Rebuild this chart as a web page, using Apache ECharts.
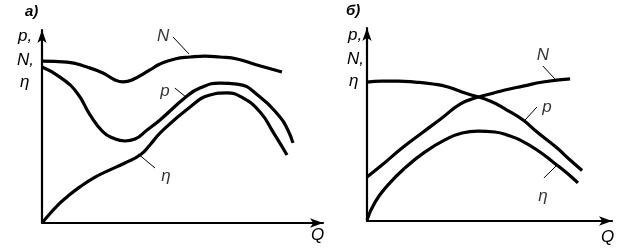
<!DOCTYPE html>
<html>
<head>
<meta charset="utf-8">
<script src="https://cdn.jsdelivr.net/npm/echarts@6/dist/echarts.min.js"></script>
<style>html,body{margin:0;padding:0;background:#fff}#c{width:630px;height:250px}</style>
</head>
<body>
<div id="c"></div>
<script>
// ---- Panel а) data (Q in relative units 0..10, value in relative units 0..10)
const qA_N   = [0, 0.89, 1.60, 2.17, 2.60, 2.88, 3.20, 3.84, 4.20, 4.73, 5.27, 5.80, 6.33, 6.94, 7.65, 8.54];
const vA_N   = [8.39, 8.34, 8.08, 7.77, 7.41, 7.31, 7.41, 7.93, 8.24, 8.50, 8.60, 8.65, 8.60, 8.50, 8.19, 7.82];
const qA_p   = [0, 0.64, 1.25, 1.71, 2.17, 2.53, 2.95, 3.31, 3.74, 4.20, 5.12, 5.62, 6.33, 6.94, 7.76, 8.47, 8.75, 8.93];
const vA_p   = [8.08, 7.56, 6.74, 5.60, 4.72, 4.40, 4.25, 4.35, 4.82, 5.34, 6.53, 6.99, 7.25, 7.20, 6.53, 5.49, 4.82, 4.15];
const qA_eta = [0, 0.21, 0.53, 0.89, 1.35, 1.89, 2.42, 2.95, 3.49, 3.84, 4.20, 5.27, 5.98, 6.58, 7.15, 7.76, 8.22, 8.72];
const vA_eta = [0, 0.36, 0.88, 1.35, 1.87, 2.38, 2.75, 3.11, 3.52, 4.04, 4.66, 6.01, 6.63, 6.74, 6.48, 5.75, 4.72, 3.52];

// ---- Panel б) data
const qB_p   = [0, 0.61, 1.27, 1.96, 2.69, 3.31, 4.00, 5.02, 5.71, 6.37, 6.94, 7.76, 8.29, 8.78];
const vB_p   = [7.20, 7.25, 7.25, 7.20, 7.10, 6.94, 6.63, 6.22, 5.75, 5.23, 4.61, 3.78, 3.16, 2.62];
const qB_N   = [0, 0.61, 1.43, 2.24, 3.06, 3.80, 4.41, 5.02, 5.63, 6.37, 7.18, 8.29];
const vB_N   = [2.28, 2.90, 3.78, 4.56, 5.34, 6.06, 6.37, 6.58, 6.79, 6.99, 7.20, 7.36];
const qB_eta = [0, 0.33, 0.86, 1.55, 2.37, 3.18, 3.88, 4.53, 5.22, 5.84, 6.24, 6.94, 7.59, 8.16, 8.61];
const vB_eta = [0.05, 0.98, 1.87, 2.75, 3.58, 4.20, 4.56, 4.66, 4.61, 4.40, 4.20, 3.68, 3.06, 2.49, 1.97];

// ---- Curve labels and leader lines (data coordinates)
const labelTextsA = ['N', 'p', 'η'];
const labelPosA   = [[4.31, 9.69], [4.38, 6.84], [4.41, 2.40]];
const leadersA    = [[[4.66, 9.64], [5.23, 8.76]], [[4.73, 6.99], [5.12, 6.53]], [[3.42, 3.58], [4.02, 2.85]]];
const labelTextsB = ['N', 'p', 'η'];
const labelPosB   = [[7.18, 8.60], [7.35, 5.91], [7.18, 1.30]];
const leadersB    = [[[7.18, 8.03], [7.67, 7.36]], [[6.94, 5.91], [6.45, 5.23]], [[7.22, 2.23], [7.76, 2.90]]];

const panelTitles = ['а)', 'б)'];
const yAxisTitle  = ['p,', 'N,', 'η'];
const xAxisTitle  = 'Q';

const zip = (a, b) => a.map((x, i) => [x, b[i]]);
const FONT = 'Liberation Sans';

function axis(idx) {
  return {
    gridIndex: idx, type: 'value', min: 0, max: 10,
    axisLine: { show: true, onZero: false, symbol: ['none', 'arrow'], symbolSize: [7, 13],
      lineStyle: { color: '#000', width: 2.2 } },
    axisTick: { show: false }, axisLabel: { show: false }, splitLine: { show: false }
  };
}
function curve(idx, q, v) {
  return { type: 'line', xAxisIndex: idx, yAxisIndex: idx, data: zip(q, v), smooth: 0.5,
    symbol: 'none', lineStyle: { color: '#000', width: 3.2 },
    silent: true, animation: false };
}
function leader(idx, seg) {
  return { type: 'line', xAxisIndex: idx, yAxisIndex: idx, data: seg, symbol: 'none',
    lineStyle: { color: '#000', width: 1 }, silent: true, animation: false };
}
function labels(idx, texts, pos) {
  return { type: 'scatter', xAxisIndex: idx, yAxisIndex: idx, symbolSize: 0, clip: false,
    data: pos.map((p, i) => ({ value: p, name: texts[i] })),
    label: { show: true, position: 'inside', formatter: p => p.name, color: '#000',
      fontFamily: FONT, fontStyle: 'italic', fontSize: 17 },
    silent: true, animation: false };
}

const series = [
  curve(0, qA_N, vA_N), curve(0, qA_p, vA_p), curve(0, qA_eta, vA_eta),
  curve(1, qB_p, vB_p), curve(1, qB_N, vB_N), curve(1, qB_eta, vB_eta),
  ...leadersA.map(s => leader(0, s)), ...leadersB.map(s => leader(1, s)),
  labels(0, labelTextsA, labelPosA), labels(1, labelTextsB, labelPosB)
];

const txt = (left, top, text, extra) => ({ type: 'text', left, top,
  style: Object.assign({ text, fill: '#000', font: 'italic 17px "' + FONT + '"' }, extra || {}) });

const chart = echarts.init(document.getElementById('c'), null, { renderer: 'canvas' });
chart.setOption({
  backgroundColor: '#fff',
  animation: false,
  grid: [
    { left: 42, right: 307, top: 30, bottom: 27 },
    { left: 367, right: 18, top: 28, bottom: 29 }
  ],
  xAxis: [axis(0), axis(1)],
  yAxis: [axis(0), axis(1)],
  series,
  graphic: [
    txt(25, 4, panelTitles[0], { font: 'italic bold 15px "' + FONT + '"' }),
    txt(346, 3, panelTitles[1], { font: 'italic bold 15px "' + FONT + '"' }),
    txt(18, 28, yAxisTitle[0]), txt(17, 52, yAxisTitle[1]), txt(20, 74, yAxisTitle[2]),
    txt(348, 27, yAxisTitle[0]), txt(347, 51, yAxisTitle[1]), txt(349, 73, yAxisTitle[2]),
    txt(311, 227, xAxisTitle), txt(601, 229, xAxisTitle)
  ]
});
</script>
</body>
</html>
